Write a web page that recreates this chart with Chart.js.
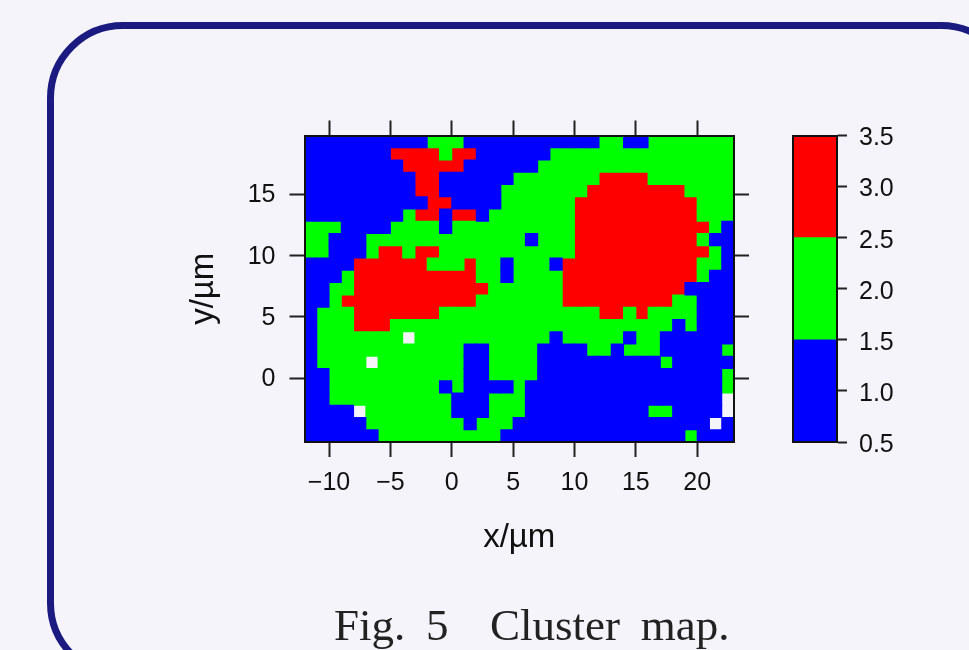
<!DOCTYPE html>
<html>
<head>
<meta charset="utf-8">
<title>Cluster map</title>
<script src="https://cdn.jsdelivr.net/npm/chart.js@4/dist/chart.umd.min.js"></script>
<style>
  html, body { margin: 0; width: 969px; height: 650px; overflow: hidden; background: #f4f4fa; }
  #frame { position: absolute; left: 47px; top: 22px; width: 970px; height: 657px; box-sizing: border-box; border: 7.5px solid #1a1a80; border-radius: 76px; }
  canvas { position: absolute; top: 0; }
  #map { left: 0; }
  #bar { left: 760px; }
  #caption { position: absolute; left: 334px; top: 599px; font: 45px "Liberation Serif", serif; word-spacing: 9.5px; color: #222; white-space: pre; }
</style>
</head>
<body>
<div id="frame"></div>
<canvas id="map" width="969" height="650"></canvas>
<canvas id="bar" width="200" height="650"></canvas>
<div id="caption">Fig. 5  Cluster map.</div>
<script>
// cluster number per pixel, top row first, '.' = no data
const clusterRows = [
  '11111111112221111111111122112222222',
  '11111113333233111111222222222222222',
  '11111111333331111112222222222222222',
  '11111111133111111222222233332222222',
  '11111111133111112222222333333332222',
  '11111111113311112222223333333333222',
  '11111111233133122222223333333333222',
  '22211112222122222222223333333333321',
  '22111222222222222212223333333333211',
  '22111233233222222222223333333333321',
  '11113333332223221222133333333333221',
  '11123333333333221222233333333333211',
  '11223333333333322222233333333331111',
  '11233333333333222222233333333322111',
  '12223333333222222222222233232222111',
  '12223332222222222222222222222212111',
  '12222222.22222222222122222122111111',
  '12222222222221122221111221222111112',
  '12222.22222221122221111111111211111',
  '11222222222221122221111111111111112',
  '11222222222121111211111111111111112',
  '1122222222221112221111111111111111.',
  '1111.22222221112221111111111221111.',
  '111112222222212221111111111111111.1',
  '11111122222222221111111111111112111'
];
const clusterNames = ['1', '2', '3'];
const clusterColors = ['#0000ff', '#00ff00', '#ff0000'];
const xStart = -12;
const xEnd = 23;
const yStart = -5.2;
const yEnd = 19.8;
const xTicks = [-10, -5, 0, 5, 10, 15, 20];
const yTicks = [0, 5, 10, 15];
const barLevels = [[0.5, 1.5], [1.5, 2.5], [2.5, 3.5]];
const barTicks = [0.5, 1, 1.5, 2, 2.5, 3, 3.5];

const INK = '#111';
const LABEL_FONT = { family: '"Liberation Sans", Arial, sans-serif', size: 25 };
const TITLE_FONT = { family: '"Liberation Sans", Arial, sans-serif', size: 33 };

// one floating bar per pixel, grouped by cluster
function cellsFor(cluster) {
  const cells = [];
  clusterRows.forEach((row, r) => {
    [...row].forEach((c, i) => {
      if (c !== cluster) return;
      const lo = yEnd - r - 1;
      cells.push({ x: xStart + i + 0.5, y: [lo, lo + 1] });
    });
  });
  return cells;
}

function minusSign(v) {
  return String(v).replace('-', '\u2212');
}

function axis(position, values, size, extra) {
  return Object.assign({
    type: 'linear',
    position: position,
    offset: false,
    afterBuildTicks: s => { s.ticks = values.map(v => ({ value: v })); },
    afterFit: s => {
      if (s.isHorizontal()) s.height = size; else s.width = size;
    },
    grid: { offset: false, drawOnChartArea: false, tickLength: 15, tickColor: '#222', tickWidth: 2 },
    border: { display: true, color: '#111', width: 2, z: 1 },
    ticks: { display: false }
  }, extra);
}

const labelTicks = { display: true, color: INK, font: LABEL_FONT, maxRotation: 0, autoSkip: false, callback: minusSign };

new Chart(document.getElementById('map'), {
  type: 'bar',
  data: {
    datasets: clusterNames.map((c, i) => ({
      label: c,
      data: cellsFor(c),
      backgroundColor: clusterColors[i],
      inflateAmount: 0.5,
      grouped: false,
      barPercentage: 1,
      categoryPercentage: 1
    }))
  },
  options: {
    responsive: false,
    animation: false,
    events: [],
    plugins: { legend: { display: false }, tooltip: { enabled: false } },
    scales: {
      x: axis('bottom', xTicks, 208, {
        min: xStart, max: xEnd,
        ticks: Object.assign({}, labelTicks, { padding: 11 }),
        title: { display: true, text: 'x/\u00b5m', color: INK, font: TITLE_FONT, padding: { top: 0, bottom: 92 } }
      }),
      x2: axis('top', xTicks, 135.5, { axis: 'x', min: xStart, max: xEnd }),
      y: axis('left', yTicks, 304.5, {
        min: yStart, max: yEnd,
        ticks: Object.assign({}, labelTicks, { padding: 14, labelOffset: 1 }),
        title: { display: true, text: 'y/\u00b5m', color: INK, font: TITLE_FONT, padding: { top: 184, bottom: 0 } }
      }),
      y2: axis('right', yTicks, 235, { axis: 'y', min: yStart, max: yEnd })
    }
  }
});

// colour key next to the map
new Chart(document.getElementById('bar'), {
  type: 'bar',
  data: {
    labels: ['key'],
    datasets: barLevels.map((range, i) => ({
      label: clusterNames[i],
      data: [range],
      backgroundColor: clusterColors[i],
      grouped: false,
      barPercentage: 1,
      categoryPercentage: 1
    }))
  },
  options: {
    responsive: false,
    animation: false,
    events: [],
    plugins: { legend: { display: false }, tooltip: { enabled: false } },
    scales: {
      x: {
        position: 'bottom',
        afterFit: s => { s.height = 208; },
        grid: { display: false, drawTicks: false },
        border: { display: true, color: '#111', width: 2, z: 1 },
        ticks: { display: false }
      },
      x2: {
        axis: 'x',
        type: 'category',
        labels: ['key'],
        position: 'top',
        afterFit: s => { s.height = 135.5; },
        grid: { display: false, drawTicks: false },
        border: { display: true, color: '#111', width: 2, z: 1 },
        ticks: { display: false }
      },
      y: axis('right', barTicks, 123, {
        min: 0.5, max: 3.5,
        grid: { offset: false, drawOnChartArea: false, tickLength: 10, tickColor: '#222', tickWidth: 2 },
        ticks: Object.assign({}, labelTicks, { padding: 12, labelOffset: 3, callback: v => v.toFixed(1) })
      }),
      y2: {
        axis: 'y',
        type: 'linear',
        min: 0.5,
        max: 3.5,
        position: 'left',
        afterFit: s => { s.width = 33; },
        grid: { display: false, drawTicks: false },
        border: { display: true, color: '#111', width: 2, z: 1 },
        ticks: { display: false }
      }
    }
  }
});
</script>
</body>
</html>
